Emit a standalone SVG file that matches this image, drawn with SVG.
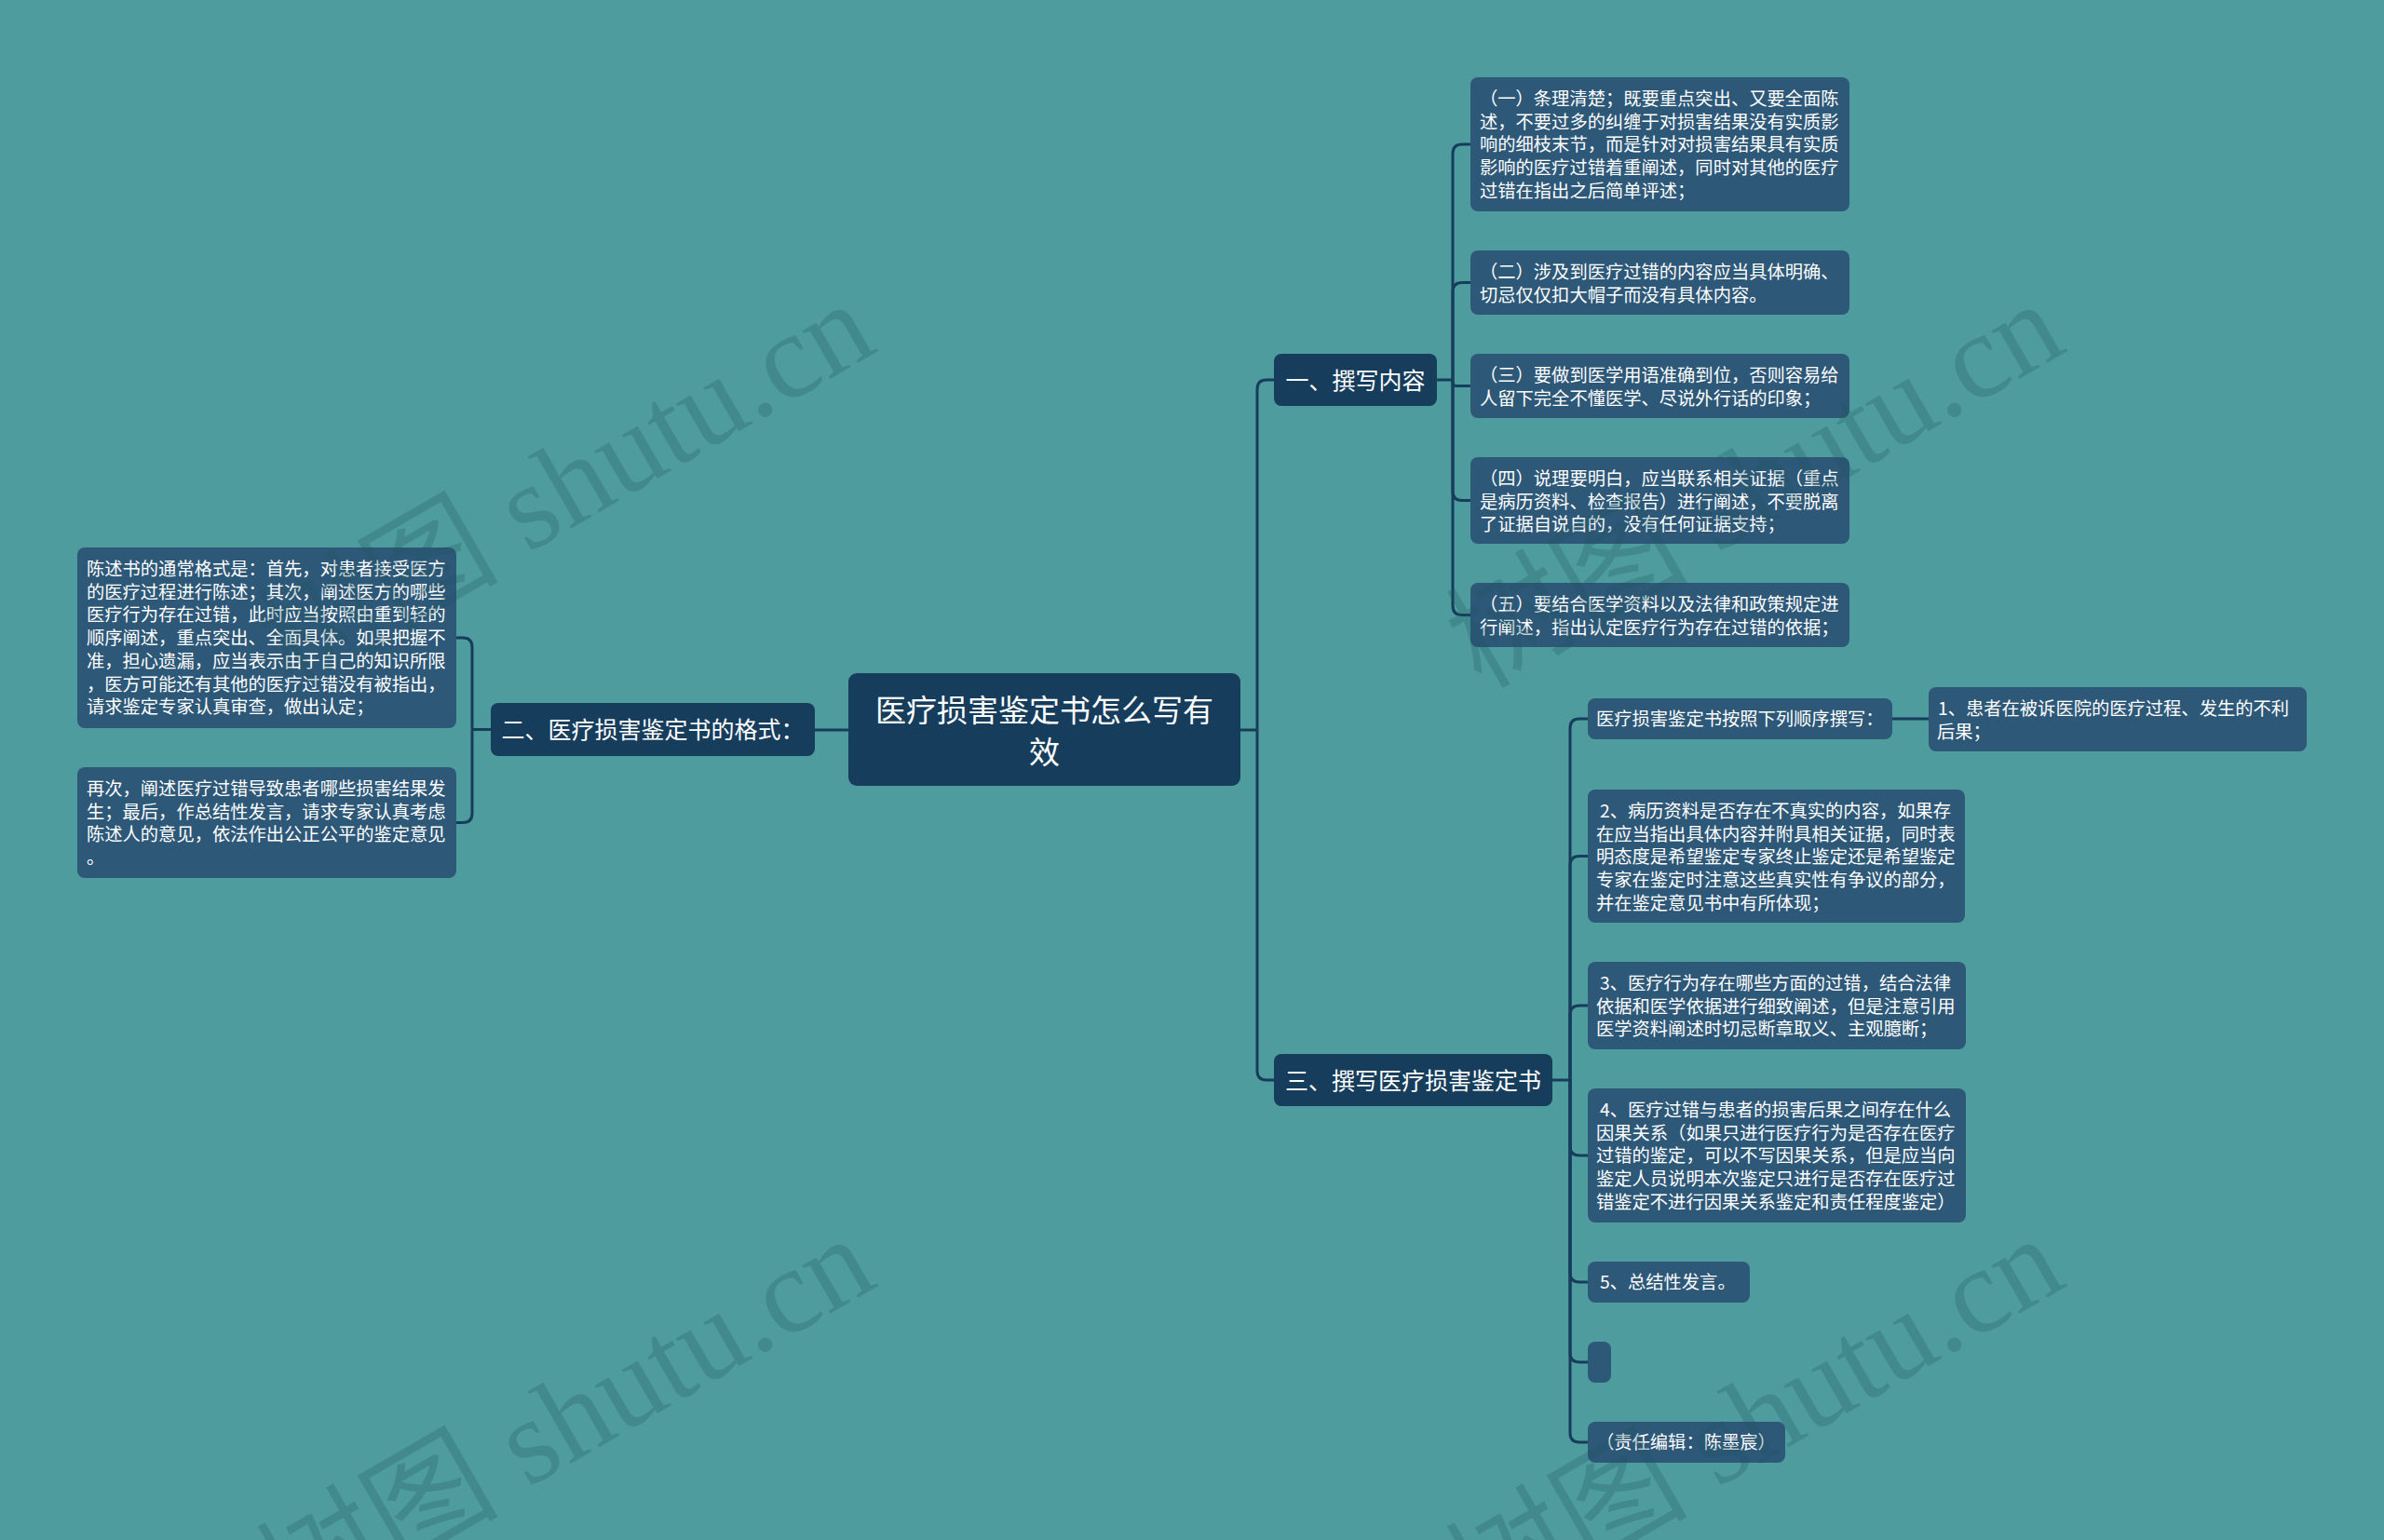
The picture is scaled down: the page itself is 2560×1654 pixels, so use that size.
<svg xmlns="http://www.w3.org/2000/svg" width="2560" height="1654" viewBox="0 0 2560 1654">
<style>
.main rect{fill:#173d5c}
.leaf rect{fill:#2e5878}
text{fill:#ffffff;font-family:"Noto Sans CJK SC","Noto Sans",sans-serif}
.main text{text-anchor:middle}
.leaf text{font-size:19.3px}
.conn path{fill:none;stroke:#173d5c;stroke-width:3}
.wm text{font-family:"Liberation Serif","Noto Sans CJK SC",serif;font-size:130px;fill:#1d5560;opacity:0.25;text-anchor:end}
</style>
<rect width="2560" height="1654" fill="#4e9c9d"/>

<g id="connectors" class="conn">
<path d="M1332 784 H1350"/>
<path d="M1350 784 V418 Q1350 408 1360 408 H1368"/>
<path d="M1350 784 V1150 Q1350 1160 1360 1160 H1368"/>
<path d="M911 784 H875"/>
<path d="M1543 408 H1560"/>
<path d="M1560 408 V165 Q1560 155 1570 155 H1579"/>
<path d="M1560 408 V313.5 Q1560 303.5 1570 303.5 H1579"/>
<path d="M1560 408 V411 Q1560 414.5 1563.5 414.5 H1579"/>
<path d="M1560 408 V527.5 Q1560 537.5 1570 537.5 H1579"/>
<path d="M1560 408 V650.5 Q1560 660.5 1570 660.5 H1579"/>
<path d="M1667 1160 H1686"/>
<path d="M1686 1160 V782 Q1686 772 1696 772 H1705"/>
<path d="M1686 1160 V929.5 Q1686 919.5 1696 919.5 H1705"/>
<path d="M1686 1160 V1090 Q1686 1080 1696 1080 H1705"/>
<path d="M1686 1160 V1231 Q1686 1241 1696 1241 H1705"/>
<path d="M1686 1160 V1367 Q1686 1377 1696 1377 H1705"/>
<path d="M1686 1160 V1453 Q1686 1463 1696 1463 H1705"/>
<path d="M1686 1160 V1539 Q1686 1549 1696 1549 H1705"/>
<path d="M2032 772 H2071"/>
<path d="M527 783.5 H507"/>
<path d="M507 783.5 V695 Q507 685 497 685 H490"/>
<path d="M507 783.5 V873.5 Q507 883.5 497 883.5 H490"/>
</g>

<g id="root" class="main">
<rect x="911" y="723" width="421" height="121" rx="9"/>
<text x="1121.5" y="774.5" font-size="33">医疗损害鉴定书怎么写有</text>
<text x="1121.5" y="819.5" font-size="33">效</text>
</g>

<g id="n1" class="main">
<rect x="1368" y="380" width="175" height="56" rx="8"/>
<text x="1455.5" y="417.5" font-size="25">一、撰写内容</text>
</g>

<g id="n3" class="main">
<rect x="1368" y="1132" width="299" height="56" rx="8"/>
<text x="1517.5" y="1169.5" font-size="25">三、撰写医疗损害鉴定书</text>
</g>

<g id="n2" class="main">
<rect x="527" y="755" width="348" height="57" rx="8"/>
<text x="701" y="793" font-size="25">二、医疗损害鉴定书的格式：</text>
</g>

<g id="n1-1" class="leaf">
<rect x="1579" y="83" width="407" height="144" rx="8"/>
<text x="1589" y="113">（一）条理清楚；既要重点突出、又要全面陈</text>
<text x="1589" y="137.7">述，不要过多的纠缠于对损害结果没有实质影</text>
<text x="1589" y="162.4">响的细枝末节，而是针对对损害结果具有实质</text>
<text x="1589" y="187.1">影响的医疗过错着重阐述，同时对其他的医疗</text>
<text x="1589" y="211.8">过错在指出之后简单评述；</text>
</g>

<g id="n1-2" class="leaf">
<rect x="1579" y="269" width="407" height="69" rx="8"/>
<text x="1589" y="299">（二）涉及到医疗过错的内容应当具体明确、</text>
<text x="1589" y="323.7">切忌仅仅扣大帽子而没有具体内容。</text>
</g>

<g id="n1-3" class="leaf">
<rect x="1579" y="380" width="407" height="69" rx="8"/>
<text x="1589" y="410">（三）要做到医学用语准确到位，否则容易给</text>
<text x="1589" y="434.7">人留下完全不懂医学、尽说外行话的印象；</text>
</g>

<g id="n1-4" class="leaf">
<rect x="1579" y="491" width="407" height="93" rx="8"/>
<text x="1589" y="521">（四）说理要明白，应当联系相关证据（重点</text>
<text x="1589" y="545.7">是病历资料、检查报告）进行阐述，不要脱离</text>
<text x="1589" y="570.4">了证据自说自的，没有任何证据支持；</text>
</g>

<g id="n1-5" class="leaf">
<rect x="1579" y="626" width="407" height="69" rx="8"/>
<text x="1589" y="656">（五）要结合医学资料以及法律和政策规定进</text>
<text x="1589" y="680.7">行阐述，指出认定医疗行为存在过错的依据；</text>
</g>

<g id="n2-1" class="leaf">
<rect x="83" y="588" width="407" height="194" rx="8"/>
<text x="93" y="618">陈述书的通常格式是：首先，对患者接受医方</text>
<text x="93" y="642.7">的医疗过程进行陈述；其次，阐述医方的哪些</text>
<text x="93" y="667.4">医疗行为存在过错，此时应当按照由重到轻的</text>
<text x="93" y="692.1">顺序阐述，重点突出、全面具体。如果把握不</text>
<text x="93" y="716.8">准，担心遗漏，应当表示由于自己的知识所限</text>
<text x="93" y="741.5">，医方可能还有其他的医疗过错没有被指出，</text>
<text x="93" y="766.2">请求鉴定专家认真审查，做出认定；</text>
</g>

<g id="n2-2" class="leaf">
<rect x="83" y="824" width="407" height="119" rx="8"/>
<text x="93" y="854">再次，阐述医疗过错导致患者哪些损害结果发</text>
<text x="93" y="878.7">生；最后，作总结性发言，请求专家认真考虑</text>
<text x="93" y="903.4">陈述人的意见，依法作出公正公平的鉴定意见</text>
<text x="93" y="928.1">。</text>
</g>

<g id="n3-a" class="leaf">
<rect x="1705" y="750" width="327" height="44" rx="8"/>
<text x="1714" y="779">医疗损害鉴定书按照下列顺序撰写：</text>
</g>

<g id="n3-a1" class="leaf">
<rect x="2071" y="738" width="406" height="69" rx="8"/>
<text x="2081" y="768">1、患者在被诉医院的医疗过程、发生的不利</text>
<text x="2080" y="792.7">后果；</text>
</g>

<g id="n3-b" class="leaf">
<rect x="1705" y="848" width="405" height="143" rx="8"/>
<text x="1718" y="878">2、病历资料是否存在不真实的内容，如果存</text>
<text x="1714" y="902.7">在应当指出具体内容并附具相关证据，同时表</text>
<text x="1714" y="927.4">明态度是希望鉴定专家终止鉴定还是希望鉴定</text>
<text x="1714" y="952.1">专家在鉴定时注意这些真实性有争议的部分，</text>
<text x="1714" y="976.8">并在鉴定意见书中有所体现；</text>
</g>

<g id="n3-c" class="leaf">
<rect x="1705" y="1033" width="406" height="94" rx="8"/>
<text x="1718" y="1063">3、医疗行为存在哪些方面的过错，结合法律</text>
<text x="1714" y="1087.7">依据和医学依据进行细致阐述，但是注意引用</text>
<text x="1714" y="1112.4">医学资料阐述时切忌断章取义、主观臆断；</text>
</g>

<g id="n3-d" class="leaf">
<rect x="1705" y="1169" width="406" height="144" rx="8"/>
<text x="1718" y="1199">4、医疗过错与患者的损害后果之间存在什么</text>
<text x="1714" y="1223.7">因果关系（如果只进行医疗行为是否存在医疗</text>
<text x="1714" y="1248.4">过错的鉴定，可以不写因果关系，但是应当向</text>
<text x="1714" y="1273.1">鉴定人员说明本次鉴定只进行是否存在医疗过</text>
<text x="1714" y="1297.8">错鉴定不进行因果关系鉴定和责任程度鉴定）</text>
</g>

<g id="n3-e" class="leaf">
<rect x="1705" y="1355" width="174" height="44" rx="8"/>
<text x="1718" y="1384">5、总结性发言。</text>
</g>

<g id="n3-f" class="leaf">
<rect x="1705" y="1441" width="25" height="44" rx="8"/>
</g>

<g id="n3-g" class="leaf">
<rect x="1705" y="1527" width="212" height="44" rx="8"/>
<text x="1714" y="1556">（责任编辑：陈墨宸）</text>
</g>

<g id="watermark" class="wm">
<text x="945" y="376" transform="rotate(-30 945 376)">树图 shutu.cn</text>
<text x="2222" y="376" transform="rotate(-30 2222 376)">树图 shutu.cn</text>
<text x="945" y="1380" transform="rotate(-30 945 1380)">树图 shutu.cn</text>
<text x="2222" y="1380" transform="rotate(-30 2222 1380)">树图 shutu.cn</text>
</g>
</svg>
